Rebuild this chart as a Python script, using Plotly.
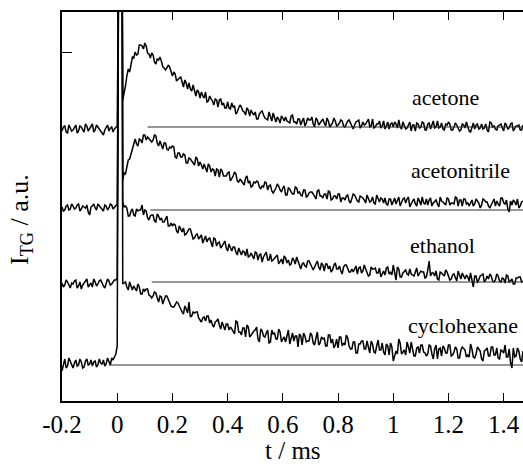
import plotly.graph_objects as go

# ---------------- data ----------------
# sampling grids (ms)
T_PRE = [round(-0.20 + 0.01 * k, 2) for k in range(21)]        # -0.200 .. 0.000
T_PRE_MID = [round(-0.195 + 0.01 * k, 3) for k in range(20)]   # -0.195 .. -0.005
T_SPIKE = [0.005, 0.018]                                         # excitation spike
T_POST = [round(0.02 + 0.01 * k, 2) for k in range(146)]         # 0.020 .. 1.470
T_MID = [round(0.025 + 0.01 * k, 3) for k in range(145)]         # 0.025 .. 1.465
SPIKE_TOP = 440

SOLVENTS = ["acetone", "acetonitrile", "ethanol", "cyclohexane"]

ACE_PRE = [270, 275, 268, 273, 271, 276, 270, 274, 269, 275, 272, 277, 271, 274, 270, 266, 273, 270, 274, 272, 275]
ACN_PRE = [194, 191, 196, 192, 195, 193, 197, 192, 194, 196, 186, 195, 193, 197, 194, 190, 195, 193, 196, 194, 197]
ETH_PRE = [118, 116, 119, 113, 117, 121, 115, 112, 118, 122, 116, 114, 119, 117, 121, 115, 118, 120, 117, 121, 123]
CYC_PRE = [30, 42, 35, 40, 33, 41, 36, 39, 34, 42, 37, 35, 40, 36, 38, 41, 37, 40, 43, 44, 55]

ACE_PRE_MID = [274, 269, 276, 270, 273, 268, 275, 271, 277, 270, 274, 269, 276, 272, 268, 271, 276, 273, 269, 274]
ACN_PRE_MID = [190, 195, 191, 197, 192, 196, 190, 195, 193, 189, 194, 197, 191, 195, 192, 196, 191, 197, 192, 195]
ETH_PRE_MID = [114, 121, 115, 118, 120, 113, 119, 116, 121, 114, 118, 122, 115, 120, 117, 113, 122, 116, 119, 121]
CYC_PRE_MID = [36, 33, 43, 36, 38, 35, 42, 33, 40, 36, 41, 39, 34, 42, 37, 35, 43, 36, 41, 47]

ACE_POST = [301, 315, 332, 338, 343, 346, 356, 355, 358, 348,
            343, 346, 337, 341, 340, 333, 333, 334, 325, 327,
            322, 324, 314, 318, 318, 310, 309, 311, 303, 305,
            309, 300, 302, 296, 301, 301, 296, 293, 299, 292,
            294, 287, 293, 294, 289, 293, 285, 288, 289, 282,
            289, 286, 282, 289, 280, 282, 284, 278, 283, 284,
            279, 285, 279, 277, 282, 280, 275, 283, 281, 277,
            283, 276, 281, 278, 283, 274, 278, 280, 276, 281,
            275, 278, 281, 275, 276, 280, 273, 279, 277, 282,
            275, 273, 277, 280, 275, 272, 279, 277, 274, 277,
            281, 272, 275, 273, 279, 276, 270, 277, 274, 278,
            271, 278, 276, 273, 280, 274, 272, 277, 279, 271,
            274, 276, 270, 277, 273, 275, 269, 278, 276, 272,
            277, 273, 271, 279, 274, 272, 275, 277, 270, 276,
            273, 278, 272, 275, 271, 276]
ACE_MID = [307, 325, 329, 344, 349, 347, 356, 352, 355, 347,
           348, 339, 342, 344, 334, 331, 336, 328, 329, 320,
           323, 318, 321, 312, 312, 316, 305, 309, 309, 303,
           299, 305, 300, 302, 294, 302, 298, 293, 293, 298,
           295, 289, 296, 290, 286, 291, 291, 286, 282, 287,
           290, 283, 281, 285, 288, 279, 282, 285, 280, 280,
           278, 286, 279, 282, 276, 283, 278, 281, 284, 274,
           281, 278, 282, 275, 280, 276, 283, 275, 278, 280,
           274, 280, 278, 272, 279, 281, 275, 276, 280, 274,
           282, 274, 277, 273, 280, 275, 272, 278, 279, 273,
           274, 279, 272, 277, 270, 276, 278, 273, 279, 271,
           277, 272, 280, 274, 273, 278, 271, 276, 277, 271,
           278, 273, 271, 276, 279, 270, 275, 272, 277, 273,
           272, 277, 269, 278, 275, 271, 276, 273, 278, 272,
           277, 270, 275, 276, 271]

ACN_POST = [221, 227, 241, 247, 259, 257, 262, 258, 266, 264,
            260, 261, 265, 255, 256, 258, 252, 254, 255, 244,
            248, 244, 247, 238, 243, 240, 236, 242, 239, 232,
            233, 237, 229, 231, 232, 224, 230, 225, 228, 220,
            225, 227, 219, 220, 216, 225, 220, 215, 218, 219,
            212, 214, 218, 215, 210, 210, 217, 211, 213, 206,
            213, 209, 207, 213, 209, 205, 211, 205, 209, 207,
            202, 211, 205, 207, 202, 209, 202, 205, 207, 199,
            203, 205, 200, 202, 206, 200, 205, 203, 198, 203,
            200, 198, 206, 199, 202, 203, 196, 202, 200, 197,
            204, 199, 203, 202, 194, 200, 197, 203, 196, 198,
            202, 201, 195, 200, 197, 204, 199, 196, 202, 198,
            197, 203, 201, 195, 202, 198, 199, 195, 202, 198,
            196, 201, 199, 193, 200, 195, 197, 203, 198, 201,
            189, 196, 199, 202, 195, 200]
ACN_MID = [228, 233, 242, 253, 262, 255, 261, 266, 261, 262,
           259, 266, 258, 260, 252, 258, 251, 253, 254, 243,
           248, 244, 246, 238, 242, 238, 244, 235, 236, 237,
           229, 235, 232, 225, 231, 232, 225, 225, 229, 222,
           229, 220, 222, 217, 223, 218, 214, 219, 220, 214,
           215, 219, 211, 216, 208, 213, 215, 209, 215, 206,
           212, 207, 214, 208, 206, 211, 204, 208, 209, 204,
           210, 205, 203, 207, 210, 201, 205, 202, 207, 203,
           201, 206, 198, 207, 203, 199, 204, 201, 206, 199,
           204, 197, 202, 203, 198, 197, 202, 196, 203, 201,
           195, 202, 198, 204, 198, 202, 195, 200, 204, 197,
           196, 203, 198, 201, 194, 200, 197, 203, 196, 198,
           204, 195, 201, 202, 197, 195, 201, 197, 200, 193,
           202, 199, 195, 196, 202, 200, 195, 203, 197, 192,
           200, 201, 196, 193, 199]

ETH_POST = [199, 195, 185, 190, 186, 192, 191, 196, 191, 183,
            185, 186, 179, 185, 183, 179, 185, 175, 175, 176,
            168, 172, 173, 167, 172, 166, 163, 167, 164, 158,
            165, 162, 158, 163, 155, 159, 155, 160, 150, 153,
            154, 149, 153, 146, 149, 152, 145, 145, 149, 141,
            147, 144, 149, 141, 140, 143, 146, 140, 137, 143,
            141, 137, 141, 144, 135, 137, 135, 140, 137, 131,
            137, 134, 138, 130, 137, 135, 131, 138, 132, 130,
            134, 136, 129, 132, 133, 127, 134, 130, 132, 125,
            134, 132, 128, 133, 128, 126, 134, 129, 136, 121,
            132, 124, 130, 127, 132, 126, 129, 125, 130, 129,
            124, 140, 128, 125, 122, 129, 126, 131, 125, 122,
            127, 120, 126, 128, 122, 124, 128, 114, 125, 122,
            126, 119, 125, 127, 120, 121, 125, 119, 122, 126,
            119, 122, 117, 123, 124, 120]
ETH_MID = [194, 193, 185, 192, 185, 190, 191, 186, 190, 181,
           186, 180, 187, 181, 179, 183, 175, 178, 177, 170,
           175, 169, 166, 170, 172, 162, 166, 162, 166, 161,
           159, 163, 154, 162, 158, 153, 157, 153, 157, 150,
           154, 146, 150, 150, 145, 144, 148, 142, 148, 146,
           139, 146, 141, 147, 141, 145, 137, 142, 145, 138,
           136, 143, 137, 140, 132, 138, 134, 140, 133, 134,
           140, 131, 136, 137, 132, 129, 136, 132, 135, 127,
           136, 133, 129, 129, 135, 133, 128, 136, 129, 126,
           132, 133, 128, 124, 130, 133, 127, 126, 130, 134,
           124, 128, 131, 126, 127, 125, 133, 127, 129, 123,
           131, 125, 128, 130, 121, 128, 125, 129, 121, 126,
           123, 130, 122, 124, 126, 120, 121, 125, 118, 125,
           127, 121, 122, 125, 119, 127, 120, 123, 118, 125,
           120, 117, 123, 124, 119]

CYC_POST = [117, 119, 111, 114, 115, 110, 114, 107, 110, 112,
            105, 105, 108, 99, 104, 101, 105, 97, 94, 96,
            98, 91, 87, 92, 99, 85, 88, 89, 81, 83,
            80, 85, 81, 74, 80, 76, 79, 71, 77, 74,
            70, 80, 69, 66, 73, 76, 64, 69, 71, 62,
            72, 65, 68, 58, 71, 68, 62, 69, 62, 59,
            71, 63, 60, 65, 67, 56, 65, 60, 68, 58,
            63, 56, 64, 63, 55, 66, 62, 56, 53, 64,
            58, 66, 55, 52, 59, 48, 57, 60, 52, 54,
            60, 49, 55, 51, 58, 46, 55, 58, 40, 50,
            62, 47, 51, 59, 48, 53, 45, 54, 56, 49,
            45, 56, 47, 52, 42, 53, 55, 48, 56, 45,
            49, 52, 43, 54, 51, 46, 57, 44, 47, 52,
            42, 50, 53, 45, 54, 46, 43, 51, 48, 44,
            52, 33, 44, 53, 42, 50]
CYC_MID = [118, 114, 119, 111, 112, 117, 107, 112, 112, 106,
           103, 109, 103, 105, 97, 105, 101, 95, 94, 99,
           95, 89, 95, 88, 84, 89, 89, 83, 79, 84,
           85, 78, 76, 79, 82, 72, 75, 77, 71, 72,
           67, 79, 69, 73, 64, 74, 66, 70, 74, 59,
           70, 64, 71, 59, 67, 62, 72, 59, 64, 66,
           57, 68, 65, 54, 65, 68, 59, 60, 66, 56,
           69, 58, 62, 55, 66, 58, 53, 62, 64, 55,
           56, 63, 52, 59, 48, 57, 60, 52, 60, 48,
           57, 48, 61, 51, 49, 57, 46, 54, 44, 47,
           58, 49, 46, 54, 59, 45, 53, 48, 56, 48,
           47, 55, 42, 56, 52, 45, 53, 48, 56, 46,
           54, 43, 51, 52, 44, 44, 52, 43, 54, 50,
           40, 51, 45, 54, 46, 53, 42, 50, 56, 44,
           38, 53, 45, 50, 39]

# zero-signal baselines: level and start time
BASE_LEVEL = [274, 191, 119, 36]
BASE_START = [0.11, 0.12, 0.125, -0.03]
T_END = 1.47

# label positions (t, level)
LABEL_T = [1.188, 1.242, 1.180, 1.253]
LABEL_V = [304, 231, 156, 76]

X_TICKS = [-0.2, 0, 0.2, 0.4, 0.6, 0.8, 1, 1.2, 1.4]
X_TICKTEXT = ["-0.2", "0", "0.2", "0.4", "0.6", "0.8", "1", "1.2", "1.4"]
Y_TICKS = [349]
X_TITLE = "t / ms"
Y_TITLE = "I<sub>TG</sub> / a.u."

SERIES = [
    (ACE_PRE, ACE_PRE_MID, ACE_POST, ACE_MID),
    (ACN_PRE, ACN_PRE_MID, ACN_POST, ACN_MID),
    (ETH_PRE, ETH_PRE_MID, ETH_POST, ETH_MID),
    (CYC_PRE, CYC_PRE_MID, CYC_POST, CYC_MID),
]

# ---------------- figure ----------------
SERIF = "Liberation Serif, Times New Roman, serif"
fig = go.Figure()

for pre, pre_mid, post, mid in SERIES:
    ts = T_PRE + T_PRE_MID + T_SPIKE + T_POST + T_MID
    vs = pre + pre_mid + [SPIKE_TOP, SPIKE_TOP] + post + mid
    pts = sorted(zip(ts, vs))
    fig.add_trace(go.Scatter(
        x=[p[0] for p in pts], y=[p[1] for p in pts],
        mode="lines", line=dict(color="black", width=1.5),
        showlegend=False, hoverinfo="skip"))

for lvl, t0 in zip(BASE_LEVEL, BASE_START):
    fig.add_trace(go.Scatter(
        x=[t0, T_END], y=[lvl, lvl], mode="lines",
        line=dict(color="#303030", width=1.2),
        showlegend=False, hoverinfo="skip"))

for name, tx, vy in zip(SOLVENTS, LABEL_T, LABEL_V):
    fig.add_annotation(x=tx, y=vy, text=name, showarrow=False,
                       font=dict(family=SERIF, size=22, color="black"),
                       xanchor="center", yanchor="middle")

# axis titles as annotations for exact placement
fig.add_annotation(xref="paper", yref="paper", x=0.5, y=-0.128, text=X_TITLE,
                   showarrow=False, xanchor="center", yanchor="middle",
                   font=dict(family=SERIF, size=25, color="black"))
fig.add_annotation(xref="paper", yref="paper", x=-0.089, y=0.468, text=Y_TITLE,
                   showarrow=False, xanchor="center", yanchor="middle", textangle=-90,
                   font=dict(family=SERIF, size=26, color="black"))

fig.update_layout(
    width=523, height=467,
    margin=dict(l=62, r=0, t=12, b=66),
    paper_bgcolor="white", plot_bgcolor="white",
    font=dict(family=SERIF, color="black"),
    xaxis=dict(
        range=[-0.2, 1.47], tickvals=X_TICKS, ticktext=X_TICKTEXT,
        ticks="inside", ticklen=8, tickwidth=1, tickcolor="black",
        showline=True, linewidth=2, linecolor="black", mirror="allticks",
        showgrid=False, zeroline=False,
        tickfont=dict(family=SERIF, size=25),
    ),
    yaxis=dict(
        range=[0, 389], tickvals=Y_TICKS, showticklabels=False,
        ticks="inside", ticklen=10, tickwidth=1, tickcolor="black",
        showline=True, linewidth=2, linecolor="black", mirror=False,
        showgrid=False, zeroline=False,
    ),
)

fig.write_html("out.html")
